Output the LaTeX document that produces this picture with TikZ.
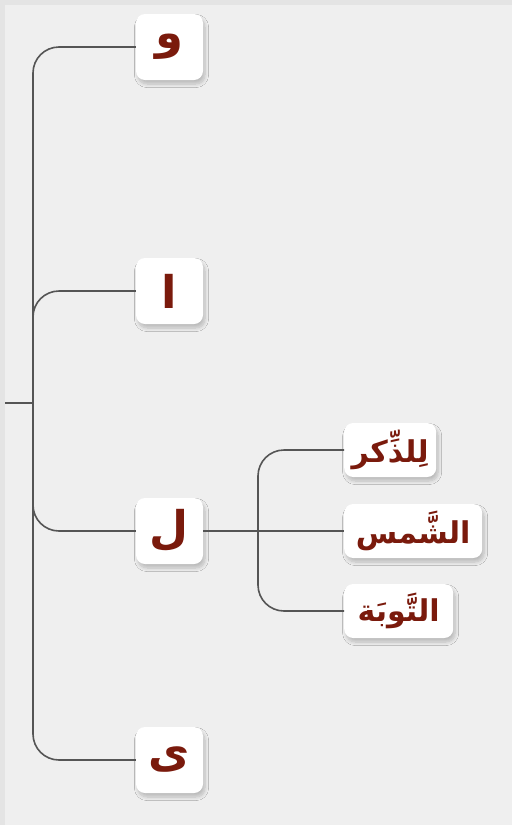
\documentclass[tikz,border=0pt]{standalone}
\usepackage{fontspec}
\usetikzlibrary{shadows.blur}
\TeXXeTstate=1
\newfontfamily\arabicfont[Script=Arabic]{DejaVu Sans}
\definecolor{bgouter}{HTML}{E4E4E4}
\definecolor{bginner}{HTML}{EFEFEF}
\definecolor{linec}{HTML}{555555}
\definecolor{txtc}{HTML}{7A1A0C}
\tikzset{
  conn/.style={draw=linec, line width=1.6pt, rounded corners=26pt},
  softshadow/.style={blur shadow={shadow xshift=2pt, shadow yshift=-4pt, shadow blur radius=3.5pt, shadow opacity=22, shadow blur steps=8}},
  lvlone/.style={fill=white, rounded corners=9pt, minimum width=67pt, minimum height=66pt,
     inner sep=0pt, text=txtc, font=\arabicfont\bfseries\fontsize{45}{52}\selectfont, softshadow},
  lvltwo/.style={fill=white, rounded corners=9pt, minimum height=54pt, inner sep=0pt,
     text=txtc, font=\arabicfont\bfseries\fontsize{30}{36}\selectfont, softshadow}
}
\begin{document}
\begin{tikzpicture}[x=1pt,y=-1pt]
\fill[bgouter] (0,0) rectangle (512,825);
\fill[bginner] (5,5) rectangle (512,825);
\useasboundingbox (0,0) rectangle (512,825);
% first level nodes
\node[lvlone] (w) at (169.5,47) {\beginR و\endR};
\node[lvlone] (a) at (169.5,291) {\beginR ا\endR};
\node[lvlone] (l) at (169.5,531) {\beginR ل\endR};
\node[lvlone] (y) at (169.5,760) {\beginR ى\endR};
% second level nodes
\node[lvltwo, minimum width=92pt, anchor=west] (d) at (344,450) {\beginR لِلذِّكر\endR};
\node[lvltwo, minimum width=138pt, anchor=west] (s) at (344,531) {\beginR الشَّمس\endR};
\node[lvltwo, minimum width=109pt, anchor=west] (t) at (344,611) {\beginR التَّوبَة\endR};
% connectors
\coordinate (root) at (5,403);
\coordinate (hub) at (33,403);
\coordinate (hub2) at (258,531);
\draw[conn] (root) -- (hub);
\draw[conn] (hub) |- (w.west);
\draw[conn] (hub) |- (a.west);
\draw[conn] (hub) |- (l.west);
\draw[conn] (hub) |- (y.west);
\draw[conn] (l.east) -- (s.west);
\draw[conn] (hub2) |- (d.west);
\draw[conn] (hub2) |- (t.west);
\end{tikzpicture}
\end{document}
